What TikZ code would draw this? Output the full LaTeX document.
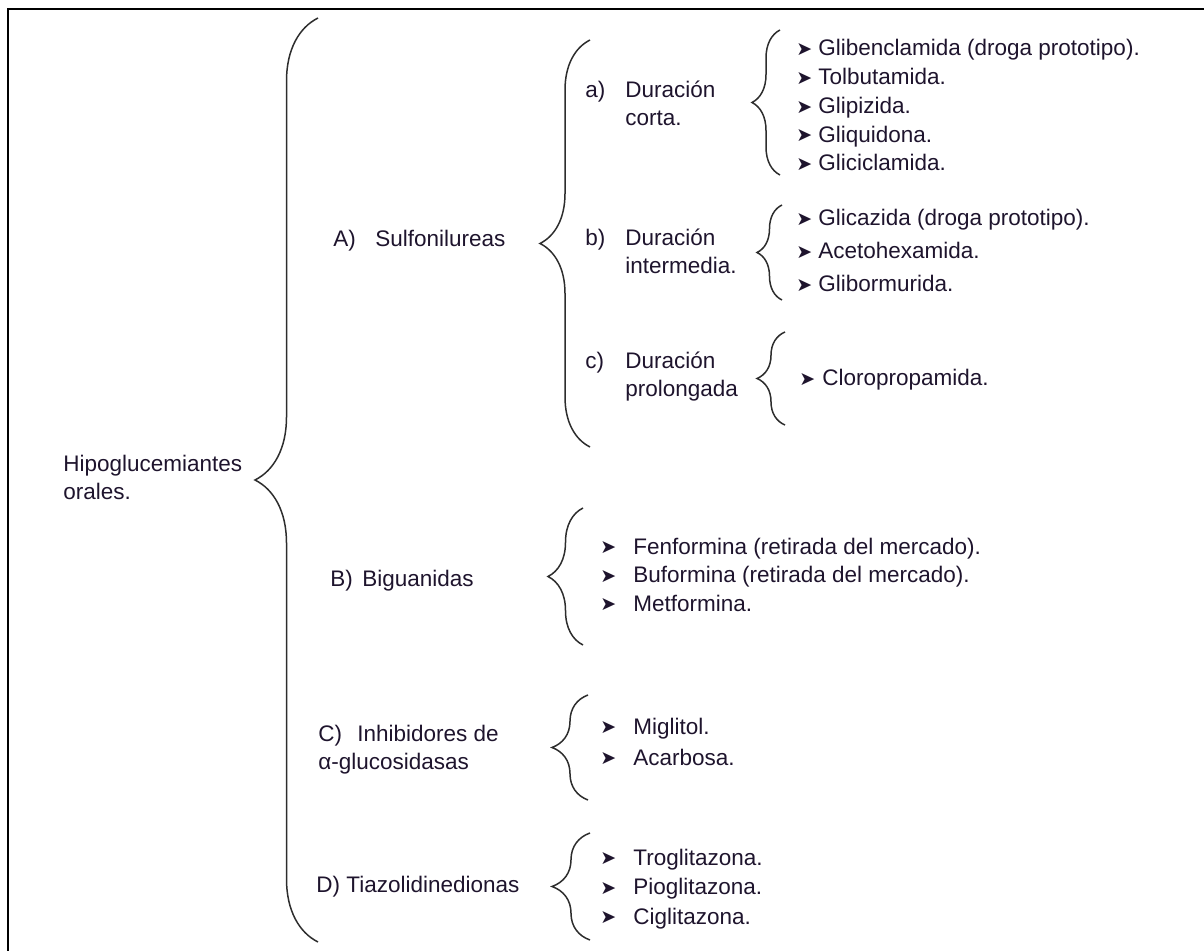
\documentclass[tikz,border=0pt]{standalone}
\usepackage{fontspec}
\setmainfont{Liberation Sans}
\newfontfamily\symfont{DejaVu Sans}
\usetikzlibrary{decorations.pathreplacing}
\definecolor{txtcol}{RGB}{30,20,45}
\definecolor{bracecol}{RGB}{45,45,45}
\newcommand\bul{\raisebox{0.2pt}{\symfont\fontsize{9.5}{9.5}\selectfont ➤}}
\tikzset{
  lbl/.style={font=\fontsize{11.25}{14}\selectfont, text=txtcol, align=left,
    inner sep=0pt, anchor=base west},
  wbrace/.style={draw=bracecol, line width=0.75pt, decorate,
    decoration={brace, amplitude=#1}},
}
\begin{document}
\begin{tikzpicture}[x=0.5pt,y=-0.5pt]
  \useasboundingbox (0,0) rectangle (1204,951);
  % 1. the frame (left and top only)
  \draw[line width=1pt] (8,951) -- (8,9) -- (1204,9);
  % 2. the group labels (base = last line)
  \node[lbl] (hypo) at (63,500) {Hipoglucemiantes\\orales.};
  \node[lbl] (sulf) at (333,247) {\makebox[21pt][l]{A)}Sulfonilureas};
  \node[lbl] (corta) at (585,126) {\makebox[20pt][l]{a)}Duración\\\hspace*{20pt}corta.};
  \node[lbl] (inter) at (585,274) {\makebox[20pt][l]{b)}Duración\\\hspace*{20pt}intermedia.};
  \node[lbl] (prolo) at (585,397) {\makebox[20pt][l]{c)}Duración\\\hspace*{20pt}prolongada};
  \node[lbl] (bigu) at (330,587) {\makebox[16pt][l]{B)}Biguanidas};
  \node[lbl] (inhib) at (318,769) {\makebox[19.5pt][l]{C)}Inhibidores de\\α-glucosidasas};
  \node[lbl] (tiazo) at (316,892) {D) Tiazolidinedionas};
  % 3. the drug lists
  \foreach \t [count=\i] in {Glibenclamida (droga prototipo).,Tolbutamida.,
      Glipizida.,Gliquidona.,Gliciclamida.}
    \node[lbl] (ia\i) at (796,{56+28.75*(\i-1)}) {\makebox[11pt][l]{\bul}\t};
  \foreach \t [count=\i] in {Glicazida (droga prototipo).,Acetohexamida.,Glibormurida.}
    \node[lbl] (ib\i) at (796,{226+33*(\i-1)}) {\makebox[11pt][l]{\bul}\t};
  \node[lbl] (ic1) at (799,386) {\makebox[11.5pt][l]{\bul}Cloropropamida.};
  \foreach \t [count=\i] in {Fenformina (retirada del mercado).,
      Buformina (retirada del mercado).,Metformina.}
    \node[lbl] (iB\i) at (600,{554+28.5*(\i-1)}) {\makebox[16.5pt][l]{\bul}\t};
  \foreach \t [count=\i] in {Miglitol.,Acarbosa.}
    \node[lbl] (iC\i) at (600,{734+31*(\i-1)}) {\makebox[16.5pt][l]{\bul}\t};
  \foreach \t [count=\i] in {Troglitazona.,Pioglitazona.,Ciglitazona.}
    \node[lbl] (iD\i) at (600,{865+29.5*(\i-1)}) {\makebox[16.5pt][l]{\bul}\t};
  % 4. the braces (name/x/top/bottom/amplitude)
  \foreach \n/\x/\t/\b/\a in {hy/318/18/942/31.5pt, A/590/40/447/25pt,
      a/780/30/175/14pt, b/782/205/300/12.5pt, c/785/332/425/14pt,
      B/583/508/645/17.5pt, C/588/695/800/18pt, D/590/833/940/19pt}{
    \coordinate (\n-top) at (\x,\t);
    \coordinate (\n-bot) at (\x,\b);
    \draw[wbrace=\a] (\n-bot) -- (\n-top);
  }
\end{tikzpicture}
\end{document}
